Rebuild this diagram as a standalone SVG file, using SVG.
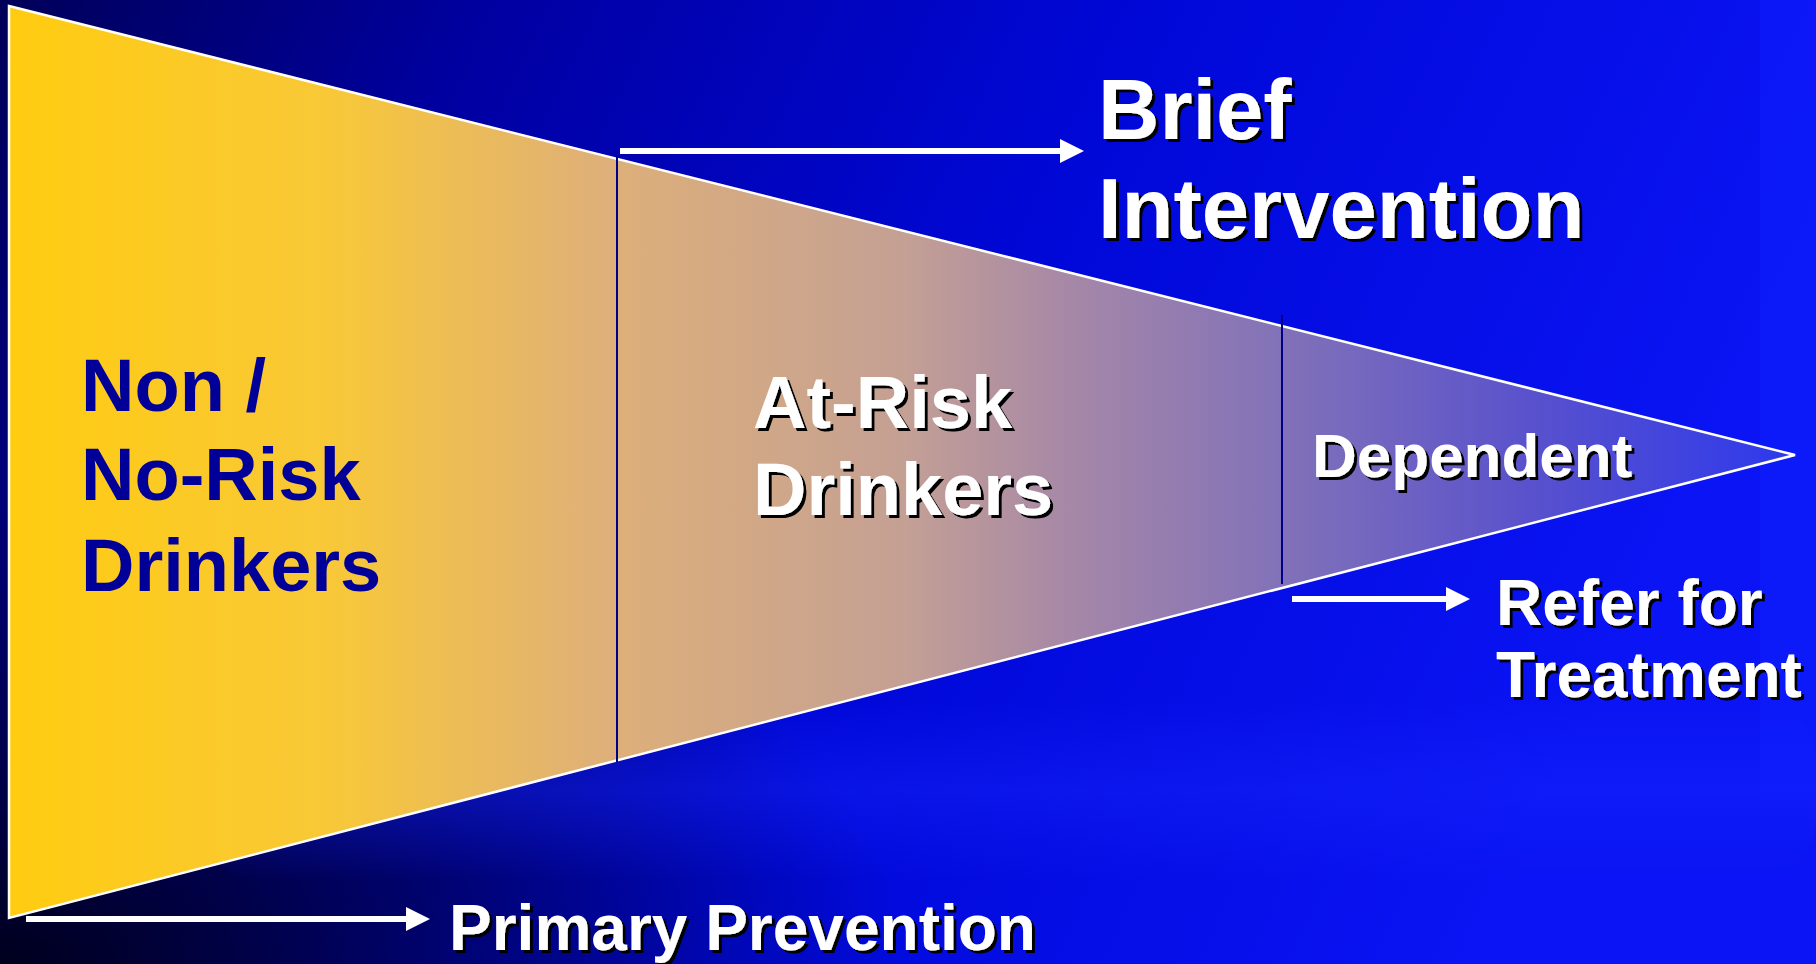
<svg xmlns="http://www.w3.org/2000/svg" width="1816" height="964" viewBox="0 0 1816 964">
<defs>
<linearGradient id="bg" x1="0" y1="0" x2="1" y2="0.25">
<stop offset="0" stop-color="#000058"/>
<stop offset="0.25" stop-color="#0000a0"/>
<stop offset="0.6" stop-color="#0008d8"/>
<stop offset="1" stop-color="#0a14f4"/>
</linearGradient>
<radialGradient id="corner" cx="0" cy="1" r="0.5">
<stop offset="0" stop-color="#000010" stop-opacity="0.9"/>
<stop offset="1" stop-color="#000010" stop-opacity="0"/>
</radialGradient>
<linearGradient id="band" x1="0" y1="0" x2="0" y2="1">
<stop offset="0" stop-color="#1828ff" stop-opacity="0"/>
<stop offset="0.5" stop-color="#1828ff" stop-opacity="0.35"/>
<stop offset="1" stop-color="#1828ff" stop-opacity="0"/>
</linearGradient>
<linearGradient id="tri" gradientUnits="userSpaceOnUse" x1="9" y1="0" x2="1795" y2="0">
<stop offset="0" stop-color="#ffcc10"/>
<stop offset="0.18" stop-color="#f8c838"/>
<stop offset="0.33" stop-color="#dfb078"/>
<stop offset="0.5" stop-color="#c4a094"/>
<stop offset="0.6" stop-color="#a486a8"/>
<stop offset="0.71" stop-color="#8272b8"/>
<stop offset="0.85" stop-color="#5a52cc"/>
<stop offset="1" stop-color="#2c38ec"/>
</linearGradient>
<filter id="sh" x="-5%" y="-5%" width="115%" height="130%">
<feDropShadow dx="3" dy="3" stdDeviation="0.3" flood-color="#000000" flood-opacity="1"/>
</filter>
<marker id="ah" markerWidth="4" markerHeight="4" refX="0" refY="2" orient="auto" markerUnits="strokeWidth">
<path d="M0,0 L4,2 L0,4 Z" fill="#ffffff"/>
</marker>
</defs>
<style>
.lbl{font-family:"Liberation Sans",Arial,sans-serif;font-weight:bold;fill:#ffffff;filter:url(#sh);}
.dark{font-family:"Liberation Sans",Arial,sans-serif;font-weight:bold;fill:#000099;}
.arrow{stroke:#ffffff;stroke-width:6;fill:none;marker-end:url(#ah);}
.div{stroke:#000088;stroke-width:2;}
</style>
<rect x="0" y="0" width="1816" height="964" fill="url(#bg)"/>
<rect x="0" y="0" width="1816" height="964" fill="url(#corner)"/>
<rect x="200" y="700" width="1616" height="180" rx="60" fill="url(#band)"/>
<rect x="1760" y="0" width="56" height="800" fill="#1020ff" opacity="0.45"/>

<g id="funnel">
<polygon points="9,6 1795,455 9,918" fill="url(#tri)" stroke="#ffffff" stroke-width="2.5"/>
<line class="div" x1="617" y1="156" x2="617" y2="762"/>
<line class="div" x1="1282" y1="315" x2="1282" y2="584"/>
</g>

<g id="connectors">
<line class="arrow" x1="620" y1="151" x2="1060" y2="151"/>
<line class="arrow" x1="1292" y1="599" x2="1446" y2="599"/>
<line class="arrow" x1="26" y1="919" x2="406" y2="919"/>
</g>

<g id="non-risk">
<text class="dark" font-size="74" x="81"><tspan x="81" y="411">Non /</tspan><tspan x="81" y="500">No-Risk</tspan><tspan x="81" y="591">Drinkers</tspan></text>
</g>
<g id="at-risk">
<text class="lbl" font-size="74"><tspan x="753" y="428">At-Risk</tspan><tspan x="753" y="515">Drinkers</tspan></text>
</g>
<g id="dependent">
<text class="lbl" font-size="62" x="1312" y="477">Dependent</text>
</g>
<g id="brief">
<text class="lbl" font-size="85"><tspan x="1098" y="139">Brief</tspan><tspan x="1098" y="238">Intervention</tspan></text>
</g>
<g id="refer">
<text class="lbl" font-size="64"><tspan x="1496" y="625">Refer for</tspan><tspan x="1496" y="697">Treatment</tspan></text>
</g>
<g id="primary">
<text class="lbl" font-size="64" x="449" y="950">Primary Prevention</text>
</g>
</svg>
